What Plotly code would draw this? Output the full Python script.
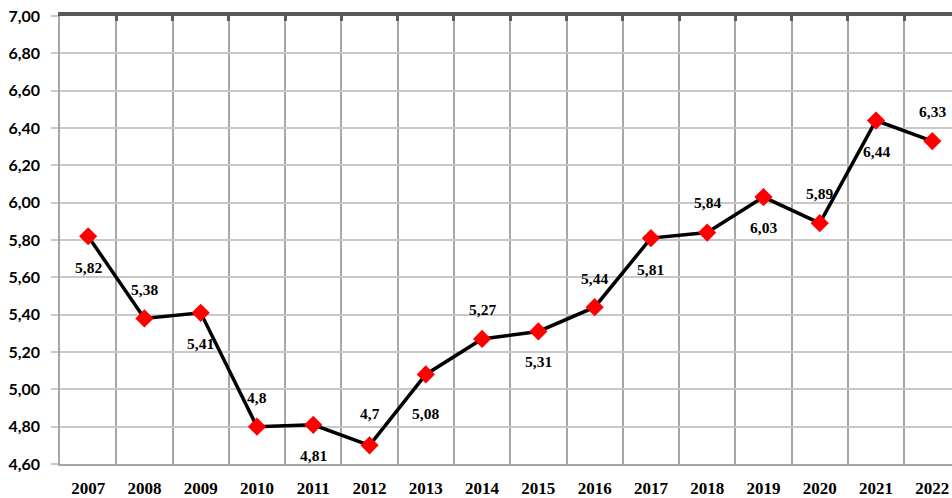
import plotly.graph_objects as go

years = ["2007", "2008", "2009", "2010", "2011", "2012", "2013", "2014",
         "2015", "2016", "2017", "2018", "2019", "2020", "2021", "2022"]
values = [5.82, 5.38, 5.41, 4.8, 4.81, 4.7, 5.08, 5.27,
          5.31, 5.44, 5.81, 5.84, 6.03, 5.89, 6.44, 6.33]
value_labels = [str(v).replace(".", ",") for v in values]
y_ticks = [4.6, 4.8, 5.0, 5.2, 5.4, 5.6, 5.8, 6.0, 6.2, 6.4, 6.6, 6.8, 7.0]
y_tick_labels = ["4,60", "4,80", "5,00", "5,20", "5,40", "5,60", "5,80",
                 "6,00", "6,20", "6,40", "6,60", "6,80", "7,00"]

# label placement (style): vertical pixel offset of each value label
label_shift = [-31, 29, -31, 29, -31, 32, -39, 29, -30, 29, -31, 30, -30, 30, -31, 30]

fig = go.Figure()
fig.add_trace(go.Scatter(
    x=years, y=values, mode="lines+markers",
    line=dict(color="black", width=3.5),
    marker=dict(symbol="diamond", size=14, color="#ff0000",
                line=dict(width=0)),
    hoverinfo="x+y", showlegend=False, cliponaxis=False,
))
# invisible helper trace for top axis
fig.add_trace(go.Scatter(
    x=years, y=values, mode="markers", xaxis="x2",
    marker=dict(opacity=0), hoverinfo="skip", showlegend=False,
))

for i, (v, t, s) in enumerate(zip(values, value_labels, label_shift)):
    fig.add_annotation(
        x=i, y=v, xref="x", yref="y", text="<b>" + t + "</b>",
        showarrow=False, yshift=s,
        font=dict(family="Liberation Serif", size=15.5, color="black"),
    )

xr = [-0.5, 15.35]
fig.update_layout(
    width=952, height=498,
    margin=dict(l=60, r=0, t=16, b=34, autoexpand=False),
    paper_bgcolor="white", plot_bgcolor="white",
    xaxis=dict(
        type="category", range=xr, tickson="boundaries", automargin=False,
        showgrid=True, gridcolor="#a6a6a6", gridwidth=1.5,
        showline=True, linecolor="#a6a6a6", linewidth=1.5,
        ticks="", ticklabelstandoff=8, ticklabeloverflow="allow",
        tickfont=dict(family="Liberation Serif", size=17, color="black",
                      weight="bold"),
    ),
    xaxis2=dict(
        type="category", range=xr, overlaying="x", side="top",
        automargin=False,
        tickson="boundaries", showgrid=False, showticklabels=False,
        showline=True, linecolor="#595959", linewidth=3.5,
        ticks="inside", ticklen=5, tickwidth=3, tickcolor="#595959",
    ),
    yaxis=dict(
        range=[4.6, 7.0], tickvals=y_ticks, ticktext=y_tick_labels,
        automargin=False, ticklabeloverflow="allow",
        showgrid=True, gridcolor="#c8c8c8", gridwidth=1.5,
        showline=True, linecolor="#a6a6a6", linewidth=1.5,
        ticks="outside", ticklen=7, tickcolor="#c8c8c8", tickwidth=1.5,
        zeroline=False, ticklabelstandoff=8,
        tickfont=dict(family="Lato", size=16, color="black", weight="bold"),
    ),
)

fig.write_html(
    "out.html",
    config={"displayModeBar": False},
    post_script="document.body.style.margin='0';document.body.style.overflow='hidden';",
)
